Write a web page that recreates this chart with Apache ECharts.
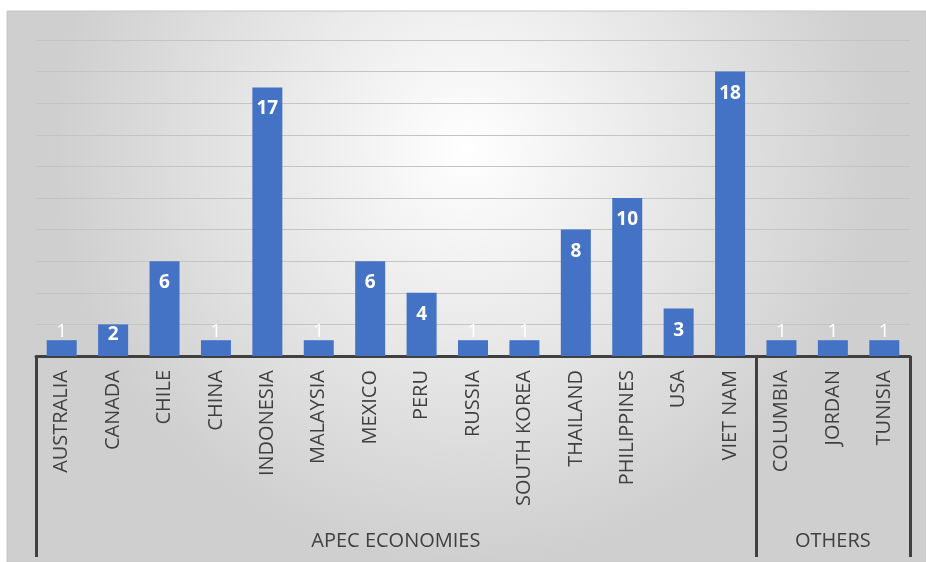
<!DOCTYPE html>
<html>
<head>
<meta charset="utf-8">
<script src="https://cdn.jsdelivr.net/npm/echarts@6/dist/echarts.min.js"></script>
<style>
  html, body { margin: 0; padding: 0; background: #ffffff; }
  #main { width: 926px; height: 562px; }
</style>
</head>
<body>
<div id="main"></div>
<script>
const countries = ['AUSTRALIA', 'CANADA', 'CHILE', 'CHINA', 'INDONESIA', 'MALAYSIA', 'MEXICO', 'PERU',
  'RUSSIA', 'SOUTH KOREA', 'THAILAND', 'PHILIPPINES', 'USA', 'VIET NAM', 'COLUMBIA', 'JORDAN', 'TUNISIA'];
const counts = [1, 2, 6, 1, 17, 1, 6, 4, 1, 1, 8, 10, 3, 18, 1, 1, 1];
const groupNames = ['APEC ECONOMIES', 'OTHERS'];
const groupSizes = [14, 3];

// group boundaries and centres on a 0..n value scale laid over the category band
const bounds = [0];
groupSizes.forEach((s) => bounds.push(bounds[bounds.length - 1] + s));
const centres = groupSizes.map((s, i) => bounds[i] + s / 2);

const textColor = '#404040';
const font = '"Open Sans", "Liberation Sans", sans-serif';

// short bars push their label up, like Excel does
function barItem(v) {
  if (v <= 1) {
    return { value: v, label: { position: 'top', distance: -1, fontWeight: 'normal', color: '#ffffff' } };
  }
  if (v <= 2) {
    return { value: v, label: { distance: 1 } };
  }
  return v;
}

const chart = echarts.init(document.getElementById('main'));
chart.setOption({
  animation: false,
  textStyle: { fontFamily: font },
  graphic: [
    {
      type: 'rect',
      z: -10,
      silent: true,
      shape: { x: 7, y: 11, width: 919, height: 551 },
      style: {
        fill: new echarts.graphic.RadialGradient(0.5, 0.25, 0.75, [
          { offset: 0, color: '#ffffff' },
          { offset: 1, color: '#cfcfcf' },
        ]),
        stroke: '#c4c4c4',
        lineWidth: 1,
      },
    },
  ],
  grid: {
    left: 36,
    right: 16,
    top: 40,
    bottom: 206,
  },
  xAxis: [
    {
      type: 'category',
      data: countries,
      axisLine: { show: true, lineStyle: { color: textColor, width: 3 } },
      axisTick: { show: false },
      axisLabel: {
        rotate: 90,
        interval: 0,
        margin: 14,
        fontSize: 20,
        color: textColor,
        fontFamily: font,
      },
    },
    {
      type: 'value',
      position: 'bottom',
      offset: 201,
      min: 0,
      max: bounds[bounds.length - 1],
      splitLine: { show: false },
      axisLine: { show: false },
      axisTick: {
        show: true,
        inside: true,
        length: 201,
        customValues: bounds,
        lineStyle: { color: textColor, width: 3 },
      },
      axisLabel: {
        inside: true,
        margin: 6,
        fontSize: 20,
        color: textColor,
        fontFamily: font,
        customValues: centres,
        formatter: (v) => {
          const i = centres.indexOf(v);
          return i >= 0 ? groupNames[i] : '';
        },
      },
    },
  ],
  yAxis: {
    type: 'value',
    min: 0,
    max: 20,
    interval: 2,
    axisLine: { show: false },
    axisTick: { show: false },
    axisLabel: { show: false },
    splitLine: { lineStyle: { color: '#c4c4c4', width: 1 } },
  },
  series: [
    {
      type: 'bar',
      xAxisIndex: 0,
      data: counts.map(barItem),
      barWidth: 30,
      itemStyle: { color: '#4472C4' },
      label: {
        show: true,
        position: 'insideTop',
        distance: 12,
        color: '#ffffff',
        fontWeight: 'bold',
        fontSize: 19,
        fontFamily: font,
      },
    },
  ],
});
</script>
</body>
</html>
